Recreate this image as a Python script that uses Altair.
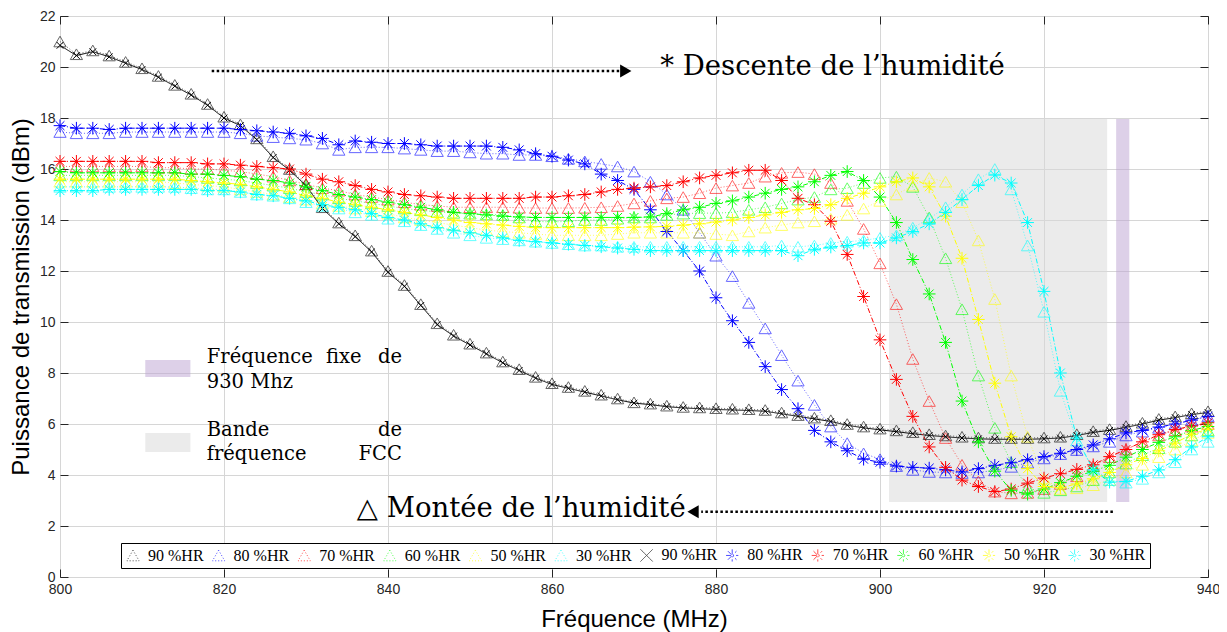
import altair as alt
import pandas as pd

# ---------------- data (every 2 MHz) ----------------
freq = list(range(800, 941, 2))

# "montée" (triangles)
hr90_up = [21.0, 20.5, 20.65, 20.45, 20.2, 19.95, 19.65, 19.3, 18.95, 18.55,
           18.05, 17.75, 17.2, 16.5, 16.0, 15.4, 14.5, 13.9, 13.4, 12.8,
           12.0, 11.45, 10.7, 9.95, 9.5, 9.15, 8.8, 8.45, 8.15, 7.85,
           7.6, 7.45, 7.3, 7.15, 7.0, 6.85, 6.8, 6.72, 6.67, 6.65,
           6.62, 6.6, 6.58, 6.55, 6.45, 6.35, 6.25, 6.15, 6.0, 5.9,
           5.82, 5.75, 5.68, 5.6, 5.55, 5.5, 5.47, 5.45, 5.45, 5.45,
           5.47, 5.5, 5.6, 5.72, 5.8, 5.92, 6.05, 6.2, 6.3, 6.42,
           6.5]
hr80_up = [17.45, 17.4, 17.4, 17.4, 17.45, 17.45, 17.45, 17.45, 17.45, 17.45,
           17.45, 17.4, 17.3, 17.25, 17.2, 17.15, 17.0, 16.75, 16.85, 16.85,
           16.85, 16.8, 16.75, 16.7, 16.7, 16.65, 16.6, 16.6, 16.55, 16.55,
           16.5, 16.4, 16.3, 16.2, 16.1, 15.9, 15.5, 15.0, 14.4, 13.5,
           12.6, 11.8, 10.75, 9.75, 8.7, 7.7, 6.75, 5.9, 5.25, 4.85,
           4.62, 4.35, 4.2, 4.12, 4.1, 4.08, 4.1, 4.18, 4.32, 4.48,
           4.65, 4.82, 4.98, 5.12, 5.3, 5.55, 5.7, 5.85, 6.0, 6.15,
           6.3]
hr70_up = [16.1, 16.1, 16.1, 16.1, 16.1, 16.1, 16.05, 16.05, 16.0, 16.0,
           15.95, 15.9, 15.8, 15.7, 15.55, 15.4, 15.25, 15.15, 15.0, 14.9,
           14.8, 14.7, 14.6, 14.55, 14.5, 14.5, 14.5, 14.5, 14.48, 14.47,
           14.47, 14.47, 14.48, 14.5, 14.55, 14.65, 14.75, 14.85, 14.9, 15.05,
           15.25, 15.35, 15.45, 15.7, 15.85, 15.88, 15.8, 15.45, 14.75, 13.65,
           12.3, 10.7, 8.55, 6.9, 5.45, 4.4, 3.75, 3.35, 3.28, 3.3,
           3.45, 3.65, 3.95, 4.35, 4.7, 5.0, 5.3, 5.55, 5.75, 5.9,
           6.0]
hr60_up = [15.75, 15.75, 15.75, 15.75, 15.75, 15.75, 15.75, 15.75, 15.7, 15.65,
           15.6, 15.55, 15.45, 15.35, 15.25, 15.1, 15.0, 14.85, 14.75, 14.65,
           14.55, 14.45, 14.38, 14.32, 14.28, 14.25, 14.22, 14.2, 14.1, 13.95,
           13.92, 13.95, 14.0, 14.0, 14.05, 14.1, 14.1, 14.2, 14.25, 14.27,
           14.27, 14.3, 14.4, 14.5, 14.65, 14.8, 14.9, 15.2, 15.25, 15.45,
           15.65, 15.7, 15.3, 14.1, 12.5, 10.5, 7.9, 5.85, 4.5, 3.5,
           3.3, 3.4, 3.55, 3.8, 4.1, 4.45, 4.78, 5.05, 5.3, 5.55,
           5.75]
hr50_up = [15.5, 15.5, 15.5, 15.5, 15.5, 15.5, 15.5, 15.45, 15.4, 15.35,
           15.3, 15.2, 15.1, 15.0, 14.9, 14.8, 14.65, 14.55, 14.45, 14.35,
           14.25, 14.1, 14.0, 13.9, 13.8, 13.7, 13.6, 13.55, 13.5, 13.45,
           13.4, 13.4, 13.4, 13.4, 13.45, 13.5, 13.5, 13.5, 13.5, 13.5,
           13.45, 13.4, 13.55, 13.7, 13.8, 13.9, 13.95, 14.05, 14.2, 14.45,
           14.75, 15.0, 15.35, 15.65, 15.5, 14.7, 13.2, 10.9, 7.9, 5.5,
           3.85, 3.45, 3.48, 3.6, 3.8, 4.1, 4.4, 4.7, 5.0, 5.35,
           5.65]
hr30_up = [15.3, 15.3, 15.3, 15.3, 15.3, 15.3, 15.3, 15.3, 15.25, 15.2,
           15.2, 15.1, 15.0, 14.95, 14.85, 14.7, 14.55, 14.45, 14.3, 14.2,
           14.05, 13.95, 13.8, 13.65, 13.5, 13.4, 13.3, 13.25, 13.2, 13.15,
           13.1, 13.05, 13.0, 13.0, 12.95, 12.95, 12.95, 12.95, 12.95, 12.95,
           12.95, 12.95, 12.95, 12.95, 13.0, 12.95, 13.0, 13.1, 13.15, 13.2,
           13.3, 13.4, 13.7, 14.05, 14.5, 15.0, 15.6, 16.0, 15.2, 13.0,
           10.4, 7.3, 5.35, 4.25, 3.8, 3.7, 3.85, 4.1, 4.5, 5.0,
           5.3]

# "descente" (x / asterisks)
hr90_dn = [20.85, 20.45, 20.6, 20.4, 20.15, 19.9, 19.6, 19.25, 18.9, 18.5,
           18.0, 17.7, 17.15, 16.45, 15.95, 15.35, 14.45, 13.85, 13.35, 12.75,
           11.95, 11.4, 10.65, 9.9, 9.45, 9.1, 8.75, 8.4, 8.1, 7.8,
           7.55, 7.4, 7.25, 7.1, 6.95, 6.82, 6.76, 6.68, 6.63, 6.6,
           6.57, 6.55, 6.53, 6.5, 6.4, 6.3, 6.2, 6.1, 5.95, 5.85,
           5.77, 5.7, 5.62, 5.55, 5.5, 5.45, 5.42, 5.4, 5.4, 5.4,
           5.42, 5.45, 5.55, 5.67, 5.75, 5.87, 6.0, 6.15, 6.25, 6.37,
           6.45]
hr80_dn = [17.7, 17.6, 17.6, 17.55, 17.6, 17.6, 17.6, 17.6, 17.6, 17.6,
           17.6, 17.55, 17.5, 17.45, 17.4, 17.3, 17.2, 16.95, 17.1, 17.05,
           17.0, 17.0, 16.95, 16.9, 16.9, 16.9, 16.9, 16.85, 16.75, 16.6,
           16.5, 16.35, 16.2, 15.8, 15.55, 15.2, 14.4, 13.55, 12.8, 12.0,
           10.95, 10.05, 9.2, 8.25, 7.35, 6.6, 5.75, 5.3, 4.95, 4.62,
           4.5, 4.35, 4.3, 4.27, 4.2, 4.12, 4.25, 4.38, 4.48, 4.6,
           4.72, 4.85, 5.0, 5.18, 5.42, 5.65, 5.75, 5.88, 6.0, 6.15,
           6.3]
hr70_dn = [16.3, 16.3, 16.3, 16.3, 16.3, 16.3, 16.25, 16.25, 16.25, 16.2,
           16.2, 16.15, 16.1, 16.05, 16.0, 15.8, 15.6, 15.5, 15.35, 15.2,
           15.1, 15.0, 14.95, 14.9, 14.85, 14.85, 14.85, 14.85, 14.85, 14.9,
           14.9, 14.95, 15.0, 15.1, 15.2, 15.25, 15.3, 15.35, 15.5, 15.65,
           15.75, 15.85, 15.95, 15.95, 15.55, 14.85, 14.6, 13.95, 12.65, 11.0,
           9.3, 7.75, 6.3, 5.1, 4.3, 3.8, 3.55, 3.35, 3.45, 3.68,
           3.88, 4.05, 4.22, 4.4, 4.72, 5.0, 5.3, 5.58, 5.78, 5.92,
           6.05]
hr60_dn = [15.9, 15.85, 15.85, 15.85, 15.85, 15.85, 15.85, 15.85, 15.8, 15.8,
           15.75, 15.7, 15.6, 15.55, 15.45, 15.3, 15.15, 15.0, 14.9, 14.8,
           14.7, 14.6, 14.5, 14.4, 14.3, 14.25, 14.2, 14.15, 14.12, 14.1,
           14.1, 14.1, 14.1, 14.1, 14.1, 14.1, 14.12, 14.25, 14.4, 14.5,
           14.65, 14.75, 14.9, 15.05, 15.2, 15.3, 15.5, 15.75, 15.9, 15.55,
           14.9, 13.9, 12.45, 11.1, 9.2, 6.9, 5.3, 4.15, 3.4, 3.25,
           3.45, 3.7, 3.95, 4.15, 4.38, 4.7, 5.0, 5.28, 5.5, 5.75,
           5.9]
hr50_dn = [15.6, 15.6, 15.6, 15.6, 15.6, 15.6, 15.6, 15.6, 15.55, 15.5,
           15.45, 15.4, 15.3, 15.2, 15.1, 14.95, 14.85, 14.7, 14.6, 14.5,
           14.4, 14.3, 14.2, 14.1, 14.0, 13.9, 13.85, 13.8, 13.75, 13.7,
           13.7, 13.7, 13.7, 13.7, 13.7, 13.72, 13.73, 13.75, 13.8, 13.85,
           13.92, 14.0, 14.1, 14.2, 14.3, 14.4, 14.45, 14.6, 14.85, 15.05,
           15.3, 15.5, 15.65, 15.3, 14.15, 12.5, 10.1, 7.6, 5.5, 4.25,
           3.55, 3.5, 3.65, 3.85, 4.1, 4.4, 4.65, 4.95, 5.25, 5.6,
           5.8]
hr30_dn = [15.15, 15.15, 15.15, 15.2, 15.2, 15.2, 15.2, 15.2, 15.2, 15.15,
           15.15, 15.1, 15.0, 14.95, 14.85, 14.75, 14.6, 14.5, 14.4, 14.25,
           14.1, 14.0, 13.85, 13.7, 13.6, 13.5, 13.4, 13.3, 13.2, 13.15,
           13.1, 13.05, 13.0, 12.95, 12.9, 12.85, 12.8, 12.8, 12.8, 12.8,
           12.8, 12.8, 12.8, 12.8, 12.8, 12.6, 12.85, 12.94, 13.0, 13.1,
           13.1, 13.3, 13.55, 13.85, 14.3, 14.8, 15.35, 15.76, 15.45, 13.9,
           11.2, 8.0, 5.45, 4.2, 3.72, 3.75, 3.95, 4.2, 4.6, 5.1,
           5.5]

keys = ["u90", "u80", "u70", "u60", "u50", "u30",
        "d90", "d80", "d70", "d60", "d50", "d30"]
series = [hr90_up, hr80_up, hr70_up, hr60_up, hr50_up, hr30_up,
          hr90_dn, hr80_dn, hr70_dn, hr60_dn, hr50_dn, hr30_dn]

xticks = [800, 820, 840, 860, 880, 900, 920, 940]
yticks = [0, 2, 4, 6, 8, 10, 12, 14, 16, 18, 20, 22]

# annotation content
big_x = [873.2, 836.2]
big_y = [20.0, 2.67]
big_t = ["*  Descente de l\u2019humidit\u00e9", "\u25b3 Mont\u00e9e de l\u2019humidit\u00e9"]

left_t = ["Fr\u00e9quence", "930 Mhz", "Bande", "fr\u00e9quence"]
left_y = [8.63, 7.66, 5.76, 4.82]
right_t = ["de", "de", "FCC"]
right_y = [8.63, 5.76, 4.82]

# ---------------- styling ----------------
palette = ["#000000", "#0000ff", "#ff0000", "#00ff00", "#ffff00", "#00ffff"]
colors = palette * 2
AST = "M0,-1L0,1M-1,0L1,0M-0.7,-0.7L0.7,0.7M-0.7,0.7L0.7,-0.7"
XSH = "M-1,-1L1,1M-1,1L1,-1"
shapes = ["triangle-up"] * 6 + [XSH] + [AST] * 5
dashes = [[1, 2]] * 6 + [[1, 0]] + [[5, 2, 1, 2]] * 5

rows = []
for k, vals in zip(keys, series):
    up = k.startswith("u")
    for f, v in zip(freq, vals):
        rows.append({"f": f, "p": v, "key": k,
                     "op": 0.6 if up else 1.0,
                     "sz": 150 if up else (45 if k == "d90" else 160)})
df = pd.DataFrame(rows)

SANS = "Liberation Sans"
SERIF = "DejaVu Serif"
xs = alt.Scale(domain=[800, 940], nice=False, zero=False)
ys = alt.Scale(domain=[0, 22], nice=False)

ax_x_grid = alt.Axis(orient="bottom", values=xticks, grid=True, gridColor="#d6d6d6",
                     labels=False, ticks=False, domain=False, title=None, zindex=0)
ax_y_grid = alt.Axis(orient="left", values=yticks, grid=True, gridColor="#d6d6d6",
                     labels=False, ticks=False, domain=False, title=None, zindex=0)
ax_x_lab = alt.Axis(orient="bottom", values=xticks, grid=False, domain=False,
                    tickSize=8, offset=-8, tickColor="#262626", labelFlush=False,
                    labelOverlap=False, format="d", labelFont=SANS, labelFontSize=14,
                    labelColor="#262626", labelPadding=5,
                    title="Fr\u00e9quence (MHz)", titleFont=SANS, titleFontSize=24,
                    titleFontWeight="normal", titleColor="#000000", titlePadding=11)
ax_y_lab = alt.Axis(orient="left", values=yticks, grid=False, domain=False,
                    tickSize=8, offset=-8, tickColor="#262626", labelFlush=False,
                    labelOverlap=False, format="d", labelFont=SANS, labelFontSize=14,
                    labelColor="#262626", labelPadding=5,
                    title="Puissance de transmission (dBm)", titleFont=SANS,
                    titleFontSize=24, titleFontWeight="normal", titleColor="#000000",
                    titlePadding=6)
ax_x_top = alt.Axis(orient="top", values=xticks, grid=False, domain=False, labels=False,
                    tickSize=8, offset=-8, tickColor="#262626", title=None)
ax_y_right = alt.Axis(orient="right", values=yticks, grid=False, domain=False, labels=False,
                      tickSize=8, offset=-8, tickColor="#262626", title=None)

leg = alt.Legend(title=None, orient="none", legendX=61, legendY=527,
                 direction="horizontal", columns=12, gridAlign="all",
                 labelExpr="substring(datum.label, 1) + ' %HR'",
                 labelFont="Liberation Serif", labelFontSize=16, labelColor="#000000",
                 symbolSize=150, symbolStrokeWidth=1, symbolOffset=0, labelOffset=7,
                 columnPadding=5.6, padding=4, strokeColor="#000000", fillColor="#ffffff",
                 cornerRadius=0, symbolType="triangle-up")

color_scale = alt.Scale(domain=keys, range=colors)

# ---------------- layers ----------------
grey_df = pd.DataFrame({"x": [901.1, 810.4], "x2": [927.7, 815.9],
                        "y": [2.94, 4.9], "y2": [17.96, 5.65]})
purple_df = pd.DataFrame({"x": [928.8, 810.4], "x2": [930.4, 815.9],
                          "y": [2.94, 7.84], "y2": [17.96, 8.51]})

grey = alt.Chart(grey_df).mark_rect(color="#d8d8d8", opacity=0.5).encode(
    x=alt.X("x:Q", scale=xs, axis=ax_x_grid), x2="x2:Q",
    y=alt.Y("y:Q", scale=ys, axis=ax_y_grid), y2="y2:Q")
purple = alt.Chart(purple_df).mark_rect(color="#bba1d1", opacity=0.5).encode(
    x=alt.X("x:Q", scale=xs, axis=None), x2="x2:Q",
    y=alt.Y("y:Q", scale=ys, axis=None), y2="y2:Q")

lines = alt.Chart(df).mark_line(strokeWidth=1).encode(
    x=alt.X("f:Q", scale=xs, axis=ax_x_lab),
    y=alt.Y("p:Q", scale=ys, axis=ax_y_lab),
    color=alt.Color("key:N", scale=color_scale, legend=leg),
    strokeDash=alt.StrokeDash("key:N", scale=alt.Scale(domain=keys, range=dashes), legend=None),
    opacity=alt.Opacity("op:Q", scale=None, legend=None),
    detail="key:N")

points = alt.Chart(df).mark_point(filled=False, strokeWidth=1).encode(
    x=alt.X("f:Q", scale=xs, axis=ax_x_top),
    y=alt.Y("p:Q", scale=ys, axis=ax_y_right),
    color=alt.Color("key:N", scale=color_scale, legend=leg),
    shape=alt.Shape("key:N", scale=alt.Scale(domain=keys, range=shapes), legend=leg),
    size=alt.Size("sz:Q", scale=None, legend=None),
    opacity=alt.Opacity("op:Q", scale=None, legend=None))

arrow_df = pd.DataFrame({"x": [818.5, 928.4], "x2": [868.3, 878.2], "y": [19.84, 2.56]})
arrows = alt.Chart(arrow_df).mark_rule(color="black", strokeWidth=2.5,
                                       strokeDash=[2.5, 2.5]).encode(
    x=alt.X("x:Q", scale=xs, axis=None), x2="x2:Q",
    y=alt.Y("y:Q", scale=ys, axis=None))
head_r = alt.Chart(pd.DataFrame({"x": [869.0], "y": [19.84]})).mark_point(
    shape="triangle-right", filled=True, color="black", size=170, opacity=1).encode(
    x=alt.X("x:Q", scale=xs, axis=None), y=alt.Y("y:Q", scale=ys, axis=None))
head_l = alt.Chart(pd.DataFrame({"x": [877.2], "y": [2.56]})).mark_point(
    shape="triangle-left", filled=True, color="black", size=170, opacity=1).encode(
    x=alt.X("x:Q", scale=xs, axis=None), y=alt.Y("y:Q", scale=ys, axis=None))

big_text = alt.Chart(pd.DataFrame({"x": big_x, "y": big_y, "t": big_t})).mark_text(
    align="left", baseline="middle", font=SERIF, fontSize=27.5, color="black").encode(
    x=alt.X("x:Q", scale=xs, axis=None), y=alt.Y("y:Q", scale=ys, axis=None), text="t:N")

left_text = alt.Chart(pd.DataFrame({"x": [817.9] * 4, "y": left_y, "t": left_t})).mark_text(
    align="left", baseline="middle", font=SERIF, fontSize=19.5, color="black").encode(
    x=alt.X("x:Q", scale=xs, axis=None), y=alt.Y("y:Q", scale=ys, axis=None), text="t:N")
mid_text = alt.Chart(pd.DataFrame({"x": [834.6], "y": [8.63], "t": ["fixe"]})).mark_text(
    align="center", baseline="middle", font=SERIF, fontSize=19.5, color="black").encode(
    x=alt.X("x:Q", scale=xs, axis=None), y=alt.Y("y:Q", scale=ys, axis=None), text="t:N")
right_text = alt.Chart(pd.DataFrame({"x": [841.7] * 3, "y": right_y, "t": right_t})).mark_text(
    align="right", baseline="middle", font=SERIF, fontSize=19.5, color="black").encode(
    x=alt.X("x:Q", scale=xs, axis=None), y=alt.Y("y:Q", scale=ys, axis=None), text="t:N")

chart = alt.layer(
    grey, purple, lines, points, arrows, head_r, head_l,
    big_text, left_text, mid_text, right_text
).resolve_axis(
    x="independent", y="independent"
).properties(
    width=1148, height=561,
    padding={"left": 52, "top": 8, "right": 11, "bottom": 55},
    autosize=alt.AutoSizeParams(type="none"),
    background="white",
).configure_view(
    stroke="#262626", strokeWidth=1
)

chart.save("out.html", embed_options={"renderer": "svg", "actions": False})
